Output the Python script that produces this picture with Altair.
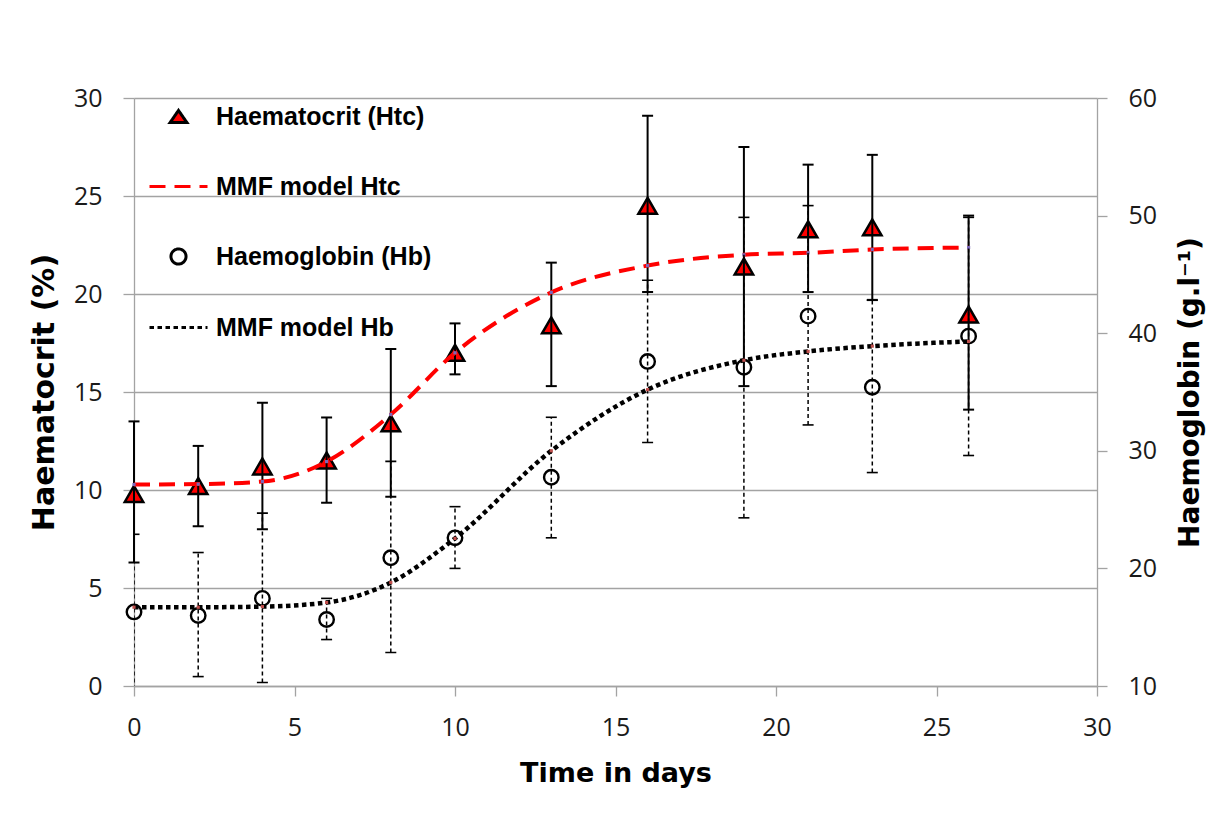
import altair as alt
import pandas as pd

# ---- data ----
days = [0, 2, 4, 6, 8, 10, 13, 16, 19, 21, 23, 26]
htc = [9.8, 10.2, 11.2, 11.5, 13.4, 17.0, 18.4, 24.5, 21.4, 23.3, 23.4, 18.95]
htc_lo = [6.3, 8.15, 8.0, 9.35, 9.65, 15.9, 15.3, 20.1, 15.3, 20.1, 19.7, 14.1]
htc_hi = [13.5, 12.25, 14.45, 13.7, 17.2, 18.5, 21.6, 29.1, 27.5, 26.6, 27.1, 24.0]
htc_model = [10.28, 10.3, 10.43, 11.45, 13.85, 17.0, 20.08, 21.45, 22.0, 22.1, 22.27, 22.37]
hb = [16.3, 16.0, 17.45, 15.65, 20.9, 22.6, 27.75, 37.6, 37.1, 41.45, 35.4, 39.75]
hb_lo = [9.7, 10.8, 10.3, 13.95, 12.85, 20.0, 22.6, 30.7, 24.3, 32.2, 28.15, 29.6]
hb_hi = [22.9, 21.35, 24.7, 17.45, 29.1, 25.25, 32.85, 44.5, 49.85, 50.85, 42.8, 49.85]
hb_model = [16.7, 16.7, 16.75, 17.1, 18.8, 22.55, 30.0, 35.2, 37.7, 38.45, 38.9, 39.3]

series_names = ["Haematocrit (Htc)", "MMF model Htc", "Haemoglobin (Hb)", "MMF model Hb"]
series_dash = [[1, 0], [16, 9], [1, 0], [4.5, 3.5]]
x_ticks = [0, 5, 10, 15, 20, 25, 30]
left_ticks = [0, 5, 10, 15, 20, 25, 30]
right_ticks = [10, 20, 30, 40, 50, 60]

df = pd.DataFrame({
    "t": days, "htc": htc, "htc_lo": htc_lo, "htc_hi": htc_hi, "htc_model": htc_model,
    "hb": hb, "hb_lo": hb_lo, "hb_hi": hb_hi, "hb_model": hb_model,
})

GRAY = "#a3a3a3"
LABEL_FONT = "Open Sans"
TITLE_FONT = "DejaVu Sans"
W, H = 963, 588

x_axis = alt.Axis(
    values=x_ticks, grid=False, domainColor=GRAY, domainWidth=1.3,
    tickColor=GRAY, tickWidth=1.3, tickSize=10,
    labelFont=LABEL_FONT, labelFontSize=25, labelColor="#1a1a1a",
    labelPadding=31, labelBaseline="middle", labelFlush=False, labelOverlap=False,
    title="Time in days", titleFont=TITLE_FONT, titleFontSize=27, titleFontWeight="bold",
    titleColor="black", titleY=87, titleBaseline="middle",
)
x_enc = alt.X("t:Q", scale=alt.Scale(domain=[0, 30], nice=False, zero=False), axis=x_axis)

left_scale = alt.Scale(domain=[0, 30], nice=False, zero=False)
left_axis = alt.Axis(
    orient="left", values=left_ticks, grid=True, gridColor=GRAY, gridWidth=1.3,
    domainColor=GRAY, domainWidth=1.3, tickColor=GRAY, tickWidth=1.3, tickSize=11,
    labelFont=LABEL_FONT, labelFontSize=25, labelColor="#1a1a1a", labelPadding=21,
    labelOverlap=False,
    title="Haematocrit (%)", titleFont=TITLE_FONT, titleFontSize=30, titleFontWeight="bold",
    titleColor="black", titleX=-90, titleY=H / 2, titleAngle=270, titleBaseline="middle",
)
right_scale = alt.Scale(domain=[10, 60], nice=False, zero=False)
right_axis = alt.Axis(
    orient="right", values=right_ticks, grid=False,
    domainColor=GRAY, domainWidth=1.3, tickColor=GRAY, tickWidth=1.3, tickSize=10,
    labelFont=LABEL_FONT, labelFontSize=25, labelColor="#1a1a1a", labelPadding=21,
    labelOverlap=False,
    title="Haemoglobin (g.l\u207b\u00b9)", titleFont=TITLE_FONT, titleFontSize=28,
    titleFontWeight="bold", titleColor="black", titleX=93, titleY=H / 2,
    titleAngle=270, titleBaseline="middle",
)


def yl(field):
    return alt.Y(field, type="quantitative", scale=left_scale, axis=left_axis)


def yr(field):
    return alt.Y(field, type="quantitative", scale=right_scale, axis=right_axis)


dash_scale = alt.Scale(domain=series_names, range=series_dash)

TRI = "M0,-0.21L0.29,0.21L-0.29,0.21Z"
CIRC = "M0.26,0A0.26,0.26,0,1,1,-0.26,0A0.26,0.26,0,1,1,0.26,0Z"
HTC, HB = series_names[0], series_names[2]
legend = alt.Legend(
    title=None, orient="none", legendX=14, legendY=-12, direction="vertical",
    padding=0, rowPadding=26, labelOffset=7, labelLimit=500,
    labelFont="Liberation Sans", labelFontSize=25, labelFontWeight="bold", labelColor="black",
    symbolSize=3364, symbolStrokeWidth=3,
    symbolType={"expr": f"datum.value == '{HTC}' ? '{TRI}' : datum.value == '{HB}' ? '{CIRC}' : 'M-1,0L1,0'"},
    symbolFillColor={"expr": f"datum.value == '{HTC}' ? '#ff0000' : 'transparent'"},
    symbolStrokeColor={"expr": "datum.value == 'MMF model Htc' ? '#ff0000' : 'black'"},
    symbolOpacity=1,
)

base = alt.Chart(df)

# ---- left axis: haematocrit ----
tri = base.mark_point(shape="triangle-up", size=340, fill="#ff0000", stroke="black",
                      strokeWidth=2.5, opacity=1, fillOpacity=1).encode(x=x_enc, y=yl("htc"))
htc_bar = base.mark_rule(color="black", strokeWidth=2).encode(x=x_enc, y=yl("htc_lo"), y2="htc_hi")
htc_cap_lo = base.mark_tick(orient="horizontal", size=11, thickness=2, color="black",
                            opacity=1).encode(x=x_enc, y=yl("htc_lo"))
htc_cap_hi = base.mark_tick(orient="horizontal", size=11, thickness=2, color="black",
                            opacity=1).encode(x=x_enc, y=yl("htc_hi"))
htc_line = base.transform_calculate(series="'MMF model Htc'").mark_line(
    color="#ff0000", strokeWidth=4, interpolate="monotone", strokeCap="butt"
).encode(x=x_enc, y=yl("htc_model"),
         strokeDash=alt.StrokeDash("series:N", scale=dash_scale, legend=legend))
htc_pts = base.mark_point(shape="square", filled=True, color="#7b68b8", size=10,
                          opacity=1).encode(x=x_enc, y=yl("htc_model"))
left = alt.layer(tri, htc_bar, htc_cap_lo, htc_cap_hi, htc_line, htc_pts)

# ---- right axis: haemoglobin ----
circ = base.mark_point(shape="circle", size=210, filled=False, stroke="black",
                       strokeWidth=2.4, opacity=1).encode(x=x_enc, y=yr("hb"))
hb_bar = base.mark_rule(color="black", strokeWidth=1.5, strokeDash=[4, 3], clip=True).encode(
    x=x_enc, y=yr("hb_lo"), y2="hb_hi")
hb_cap_lo = base.mark_tick(orient="horizontal", size=11, thickness=1.6, color="black",
                           opacity=1, clip=True).encode(x=x_enc, y=yr("hb_lo"))
hb_cap_hi = base.mark_tick(orient="horizontal", size=11, thickness=1.6, color="black",
                           opacity=1, clip=True).encode(x=x_enc, y=yr("hb_hi"))
hb_line = base.transform_calculate(series="'MMF model Hb'").mark_line(
    color="black", strokeWidth=4.5, interpolate="monotone", strokeCap="butt"
).encode(x=x_enc, y=yr("hb_model"),
         strokeDash=alt.StrokeDash("series:N", scale=dash_scale, legend=None))
hb_pts = base.mark_point(shape="square", filled=True, color="#c0504d", size=10,
                         opacity=1).encode(x=x_enc, y=yr("hb_model"))
right = alt.layer(circ, hb_bar, hb_cap_lo, hb_cap_hi, hb_line, hb_pts)

chart = alt.layer(left, right).resolve_scale(y="independent").properties(
    width=W, height=H,
    autosize=alt.AutoSizeParams(type="none"),
    padding={"left": 126, "top": 90, "right": 120, "bottom": 110},
    background="white",
).configure_view(strokeWidth=0)

chart.save("out.html", embed_options={"renderer": "svg", "actions": False})
